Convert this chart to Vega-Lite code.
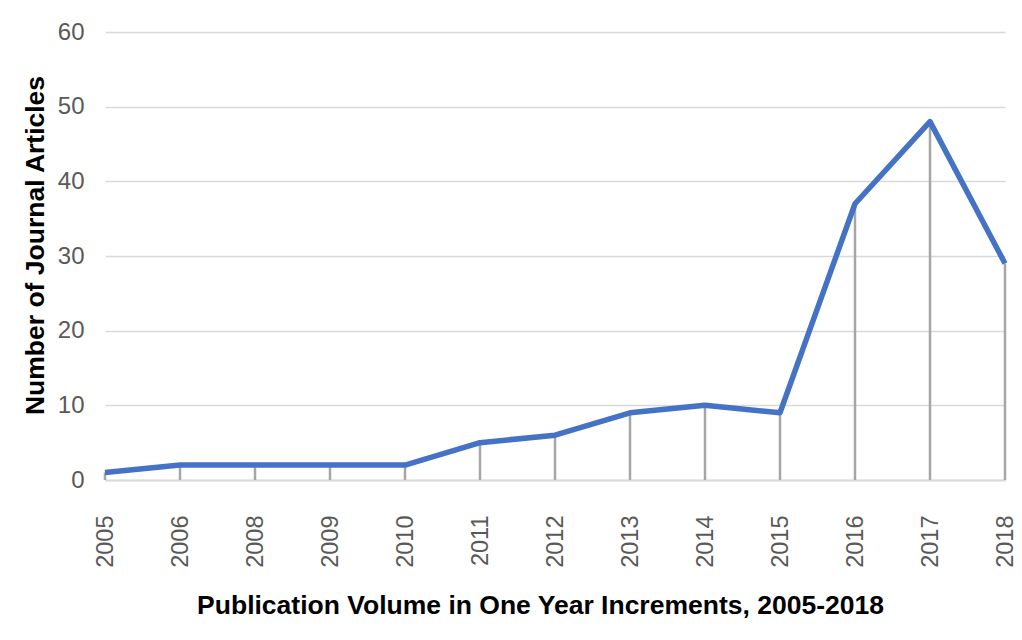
{
  "$schema": "https://vega.github.io/schema/vega-lite/v6.json",
  "autosize": "none",
  "width": 900,
  "height": 448,
  "padding": {"left": 105, "top": 32, "right": 17, "bottom": 160},
  "background": "white",
  "config": {
    "view": {"stroke": null},
    "font": "Liberation Sans"
  },
  "data": {
    "values": [
      {"year": "2005", "articles": 1},
      {"year": "2006", "articles": 2},
      {"year": "2008", "articles": 2},
      {"year": "2009", "articles": 2},
      {"year": "2010", "articles": 2},
      {"year": "2011", "articles": 5},
      {"year": "2012", "articles": 6},
      {"year": "2013", "articles": 9},
      {"year": "2014", "articles": 10},
      {"year": "2015", "articles": 9},
      {"year": "2016", "articles": 37},
      {"year": "2017", "articles": 48},
      {"year": "2018", "articles": 29}
    ]
  },
  "encoding": {
    "x": {
      "field": "year",
      "type": "ordinal",
      "sort": null,
      "scale": {"type": "point", "padding": 0},
      "axis": {
        "title": "Publication Volume in One Year Increments, 2005-2018",
        "titleFont": "Liberation Sans",
        "titleFontSize": 26.5,
        "titleFontWeight": "bold",
        "titleColor": "#000000",
        "titleX": 435,
        "titleY": 125,
        "titleBaseline": "middle",
        "labelAngle": -90,
        "labelFont": "Liberation Sans",
        "labelFontSize": 23.5,
        "labelColor": "#595959",
        "labelPadding": 35,
        "ticks": false,
        "domain": true,
        "domainColor": "#D9D9D9",
        "domainWidth": 2,
        "grid": false
      }
    },
    "y": {
      "field": "articles",
      "type": "quantitative",
      "scale": {"domain": [0, 60], "nice": false},
      "axis": {
        "values": [0, 10, 20, 30, 40, 50, 60],
        "title": "Number of Journal Articles",
        "titleFont": "Liberation Sans",
        "titleFontSize": 26.5,
        "titleFontWeight": "bold",
        "titleColor": "#000000",
        "titleX": -56,
        "titleY": 213,
        "labelFont": "Liberation Sans",
        "labelFontSize": 24,
        "labelColor": "#595959",
        "labelPadding": 21,
        "ticks": false,
        "domain": false,
        "grid": true,
        "gridColor": "#D9D9D9",
        "gridWidth": 1.5
      }
    }
  },
  "layer": [
    {
      "mark": {"type": "rule", "color": "#A6A6A6", "strokeWidth": 2.5},
      "encoding": {
        "y2": {"datum": 0}
      }
    },
    {
      "mark": {"type": "line", "color": "#4472C4", "strokeWidth": 5.5, "strokeJoin": "round"},
      "encoding": {}
    }
  ]
}
